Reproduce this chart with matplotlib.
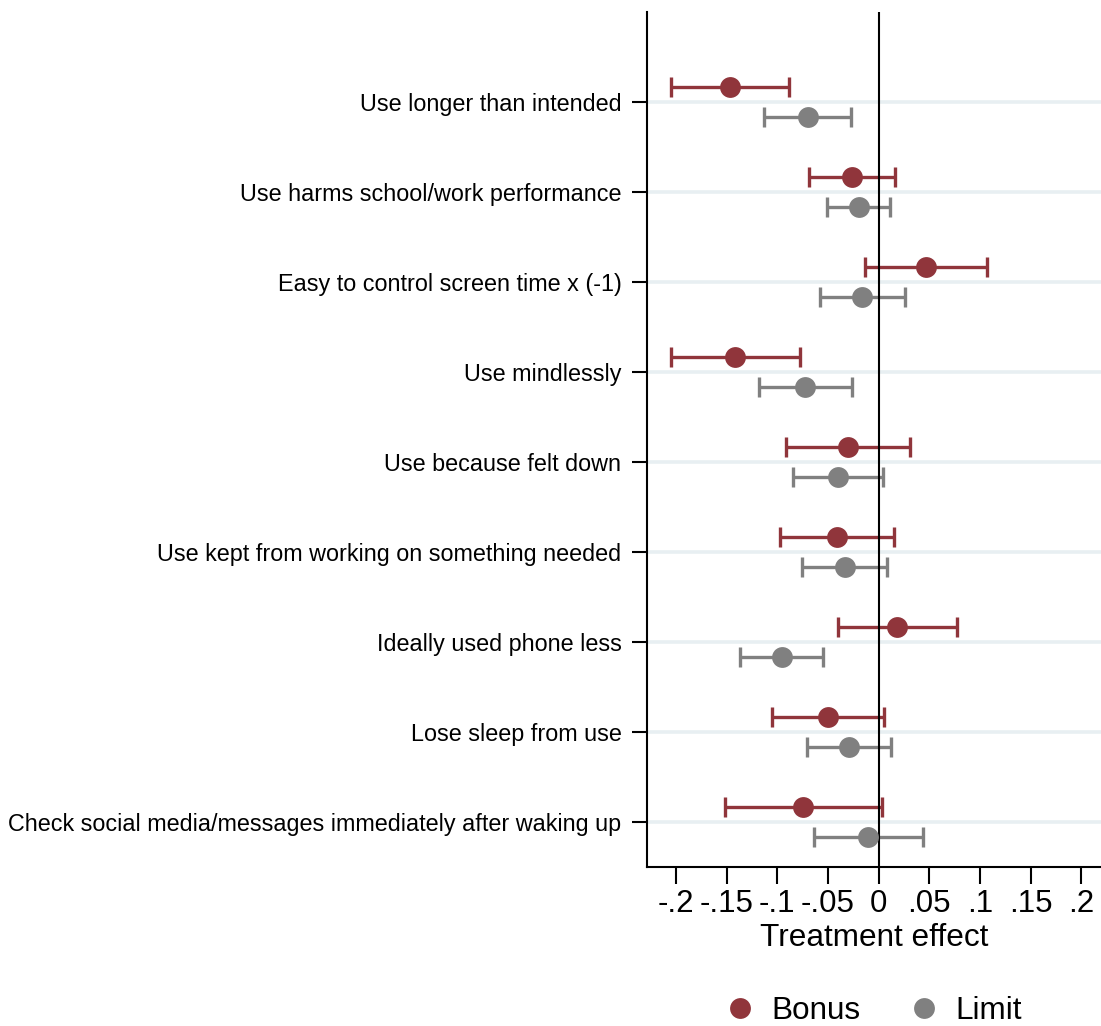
import numpy as np
import matplotlib
matplotlib.use("Agg")
import matplotlib.pyplot as plt

plt.rcParams['font.family'] = ['Liberation Sans', 'DejaVu Sans']

### values ###
outcomes = [
    "Use longer than intended",
    "Use harms school/work performance",
    "Easy to control screen time x (-1)",
    "Use mindlessly",
    "Use because felt down",
    "Use kept from working on something needed",
    "Ideally used phone less",
    "Lose sleep from use",
    "Check social media/messages immediately after waking up",
]
bonus_est = [-0.1467, -0.0266, 0.0466, -0.1414, -0.0303, -0.0411, 0.0184, -0.0497, -0.0747]
bonus_lo = [-0.2048, -0.0690, -0.0132, -0.2048, -0.0917, -0.0970, -0.0401, -0.1049, -0.1516]
bonus_hi = [-0.0885, 0.0158, 0.1070, -0.0779, 0.0312, 0.0154, 0.0775, 0.0056, 0.0029]
limit_est = [-0.0700, -0.0197, -0.0162, -0.0724, -0.0401, -0.0336, -0.0950, -0.0293, -0.0102]
limit_lo = [-0.1130, -0.0510, -0.0579, -0.1184, -0.0849, -0.0756, -0.1365, -0.0710, -0.0638]
limit_hi = [-0.0273, 0.0108, 0.0262, -0.0267, 0.0046, 0.0085, -0.0546, 0.0118, 0.0437]

xticks = [-0.2, -0.15, -0.1, -0.05, 0, 0.05, 0.1, 0.15, 0.2]
xticklabels = ["-.2", "-.15", "-.1", "-.05", "0", ".05", ".1", ".15", ".2"]

red = "#90353b"
grey = "#808080"

W, H = 1101, 1026
fig = plt.figure(figsize=(W / 100, H / 100), dpi=100)
ax = fig.add_axes([646.5 / W, 1 - 867 / H, (W - 646.5) / W, (867 - 12) / H])

pos = np.arange(1, len(outcomes) + 1)
off = 1 / 6

# light grid lines at each outcome
for p in pos:
    ax.axhline(p, color="#e8eff2", lw=2.6, zorder=0)

def draw(est, lo, hi, y, col, label):
    est = np.array(est)
    xerr = np.vstack([est - np.array(lo), np.array(hi) - est])
    ax.errorbar(est, y, xerr=xerr, fmt="none", ecolor=col, elinewidth=2.4,
                capsize=7.2, capthick=2.4, zorder=2)
    ax.plot(est, y, "o", color=col, markersize=15, zorder=4, label=label,
            markeredgewidth=0)

draw(bonus_est, bonus_lo, bonus_hi, pos - off, red, "Bonus")
draw(limit_est, limit_lo, limit_hi, pos + off, grey, "Limit")

ax.axvline(0, color="black", lw=1.5, zorder=3)

ax.set_xlim(-0.229, 0.2195)
ax.set_ylim(9.5, 0)
ax.set_yticks(pos)
ax.set_yticklabels(outcomes, fontsize=16.8)
ax.set_xticks(xticks)
ax.set_xticklabels(xticklabels, fontsize=22.5)
ax.set_xlabel("Treatment effect", fontsize=22.7, labelpad=3)

ax.tick_params(axis="y", length=11, width=1.5, pad=7)
ax.tick_params(axis="x", length=12, width=1.5, pad=4)
for s in ["top", "right"]:
    ax.spines[s].set_visible(False)
for s in ["left", "bottom"]:
    ax.spines[s].set_linewidth(1.5)

fig.legend(loc="center", bbox_to_anchor=(873 / W, 1 - 1011 / H), ncol=2,
           frameon=False, fontsize=22.7, handlelength=1.0, handletextpad=0.5,
           columnspacing=1.52, markerscale=1.0)

fig.savefig("out.png", dpi=100)
